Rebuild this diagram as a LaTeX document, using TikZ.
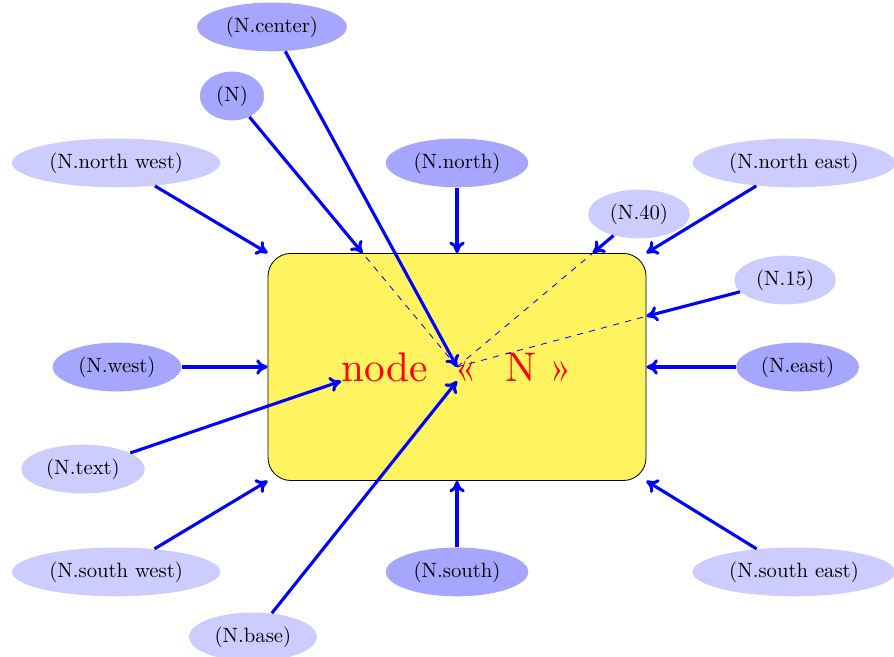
\documentclass[tikz,border=0pt]{standalone}
\usepackage{graphicx}
\usetikzlibrary{shapes.geometric,arrows.meta}
\definecolor{nodefill}{RGB}{255,243,95}
\begin{document}
\begin{tikzpicture}[x=1pt,y=1pt,
  dark/.style={ellipse,fill=blue!35},
  light/.style={ellipse,fill=blue!20},
  arr/.style={-{To[length=5.5pt,width=7.5pt]},blue,line width=1.5pt},
  dsh/.style={blue,dashed}]
\useasboundingbox (-220.8,-140.1) rectangle (211.1,177.3);
\node[draw, fill=nodefill, rounded corners=11pt, minimum width=182.6pt,
      minimum height=109.7pt, text=red] (N) at (0,0)
      {\scalebox{2.0}{node\hspace{6.6pt}«\hspace{6.6pt}N\ »}};
\node[dark]  (eC)  at (-89.4,164.3)  {(N.center)};
\node[dark]  (eN)  at (-108.7,130.9) {(N)};
\node[light] (eNW) at (-164.7,98.6)  {(N.north west)};
\node[dark]  (eNo) at (0,98.6)       {(N.north)};
\node[light] (eNE) at (162.8,98.6)   {(N.north east)};
\node[light] (e40) at (87.9,73.9)    {(N.40)};
\node[light] (e15) at (158.5,42.0)   {(N.15)};
\node[dark]  (eW)  at (-164.3,0)     {(N.west)};
\node[dark]  (eE)  at (164.5,0)      {(N.east)};
\node[light] (eT)  at (-180.7,-49.3) {(N.text)};
\node[light] (eSW) at (-164.7,-99)   {(N.south west)};
\node[dark]  (eS)  at (0,-99)        {(N.south)};
\node[light] (eSE) at (162.8,-99)    {(N.south east)};
\node[light] (eB)  at (-98.6,-130.4) {(N.base)};
\draw[arr] (eN) -- (N) coordinate[pos=1] (pN);
\draw[dsh] (N.center) -- (pN);
\draw[dsh] (N.center) -- (N.40);
\draw[dsh] (N.center) -- (N.15);
\draw[arr] (eC) -- (N.center);
\draw[arr] (eNW) -- (N.north west);
\draw[arr] (eNo) -- (N.north);
\draw[arr] (eNE) -- (N.north east);
\draw[arr] (e40) -- (N.40);
\draw[arr] (e15) -- (N.15);
\draw[arr] (eW) -- (N.west);
\draw[arr] (eE) -- (N.east);
\draw[arr] (eT) -- (N.text);
\draw[arr] (eSW) -- (N.south west);
\draw[arr] (eS) -- (N.south);
\draw[arr] (eSE) -- (N.south east);
\draw[arr] (eB) -- (N.base);
\end{tikzpicture}
\end{document}
